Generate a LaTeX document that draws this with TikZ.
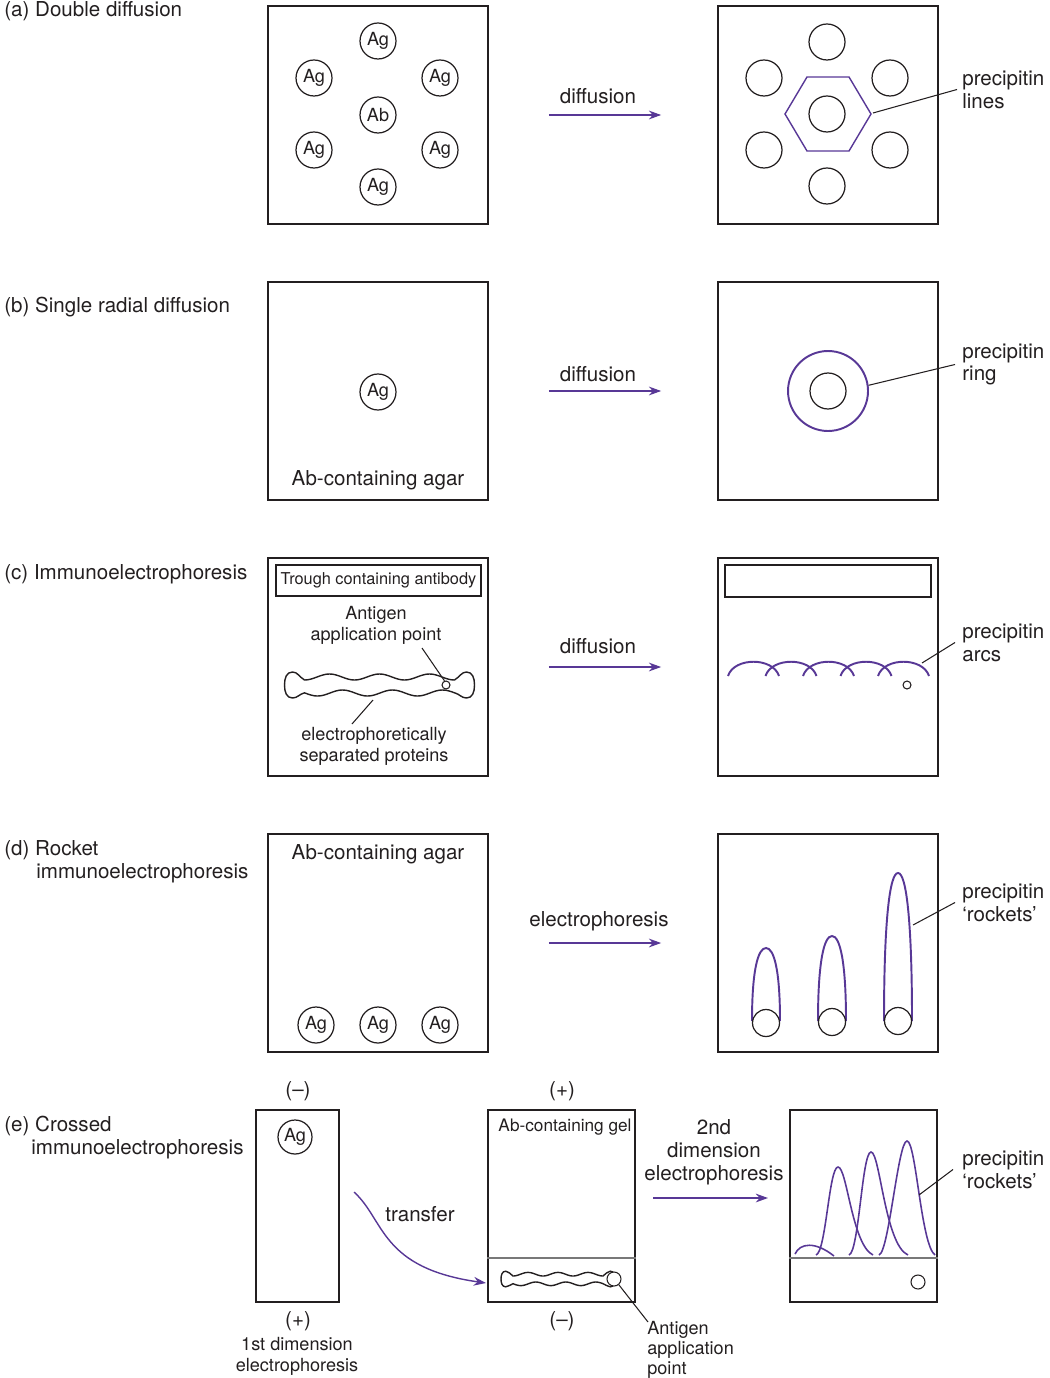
\documentclass[tikz,border=0pt]{standalone}
\usepackage{fontspec}
\setmainfont{TeX Gyre Heros}
\usetikzlibrary{arrows.meta,positioning}
\definecolor{ink}{RGB}{35,31,32}
\definecolor{purp}{RGB}{88,56,150}
\definecolor{divline}{RGB}{120,120,120}

\tikzset{
  plate/.style={draw=ink, line width=1pt, minimum width=4.4cm, minimum height=4.36cm, inner sep=0},
  strip/.style={draw=ink, line width=1pt, minimum height=3.84cm, inner sep=0},
  well/.style={circle, draw=ink, line width=0.7pt, minimum size=0.72cm, inner sep=0, text=ink, font=\fontsize{10.3}{12}\selectfont},
  prec/.style={draw=purp, line width=1.1pt},
  flow/.style={purp, line width=0.8pt, -{Stealth[length=7pt,width=5pt]}},
  leader/.style={draw=ink, line width=0.6pt},
  lbl/.style={text=ink, font=\fontsize{11.7}{13}\selectfont, inner sep=0, yshift=-0.03cm},
  note/.style={text=ink, font=\fontsize{10.3}{11.9}\selectfont, inner sep=0, align=center, yshift=-0.02cm},
  side/.style={lbl, align=left, anchor=west, inner xsep=0.1cm},
  band/.pic={
    \draw[ink, line width=0.8pt] plot[domain=-75:75, samples=61] (\x,{-8-3*cos(7.2*\x)})
      .. controls (80,-8) and (82,-13) .. (87,-13) .. controls (93,-13) and (95,-7) .. (95,0)
      .. controls (95,7) and (93,13) .. (87,13) .. controls (82,13) and (80,9) .. (75,7.8)
      -- plot[domain=75:-75, samples=61] (\x,{8+3*cos(7.2*(\x+12))})
      .. controls (-80,9) and (-82,13) .. (-87,13) .. controls (-93,13) and (-95,7) .. (-95,0)
      .. controls (-95,-7) and (-93,-13) .. (-87,-13) .. controls (-82,-13) and (-80,-8) .. cycle;
  },
}

\begin{document}
\begin{tikzpicture}[x=0.02cm, y=-0.02cm]
\useasboundingbox (0,0) rectangle (1049,1378);

% (a) double diffusion
\node[lbl, anchor=west] (capA) at (4,10) {(a) Double diffusion};
\node[plate] (a1) at (378,115) {};
\node[plate] (a2) at (828,115) {};
\node[well] (a1n) at (378,41) {Ag};
\node[well] (a1nw) at (314,78) {Ag};
\node[well] (a1ne) at (440,78) {Ag};
\node[well] (a1c) at (378,115) {Ab};
\node[well] (a1sw) at (314,150) {Ag};
\node[well] (a1se) at (440,150) {Ag};
\node[well] (a1s) at (378,187) {Ag};
\node[well] (a2n) at (827,42) {};
\node[well] (a2nw) at (764,78) {};
\node[well] (a2ne) at (890,78) {};
\node[well] (a2c) at (827,114) {};
\node[well] (a2sw) at (764,150) {};
\node[well] (a2se) at (890,150) {};
\node[well] (a2s) at (827,186) {};
\draw[prec, line width=0.8pt] (785,114) -- (807,77) -- (849,77) -- (871,114) -- (849,151) -- (807,151) -- cycle;
\coordinate (hexR) at (873,113);
\node[lbl] (difA) at (598,95) {diffusion};
\draw[flow] ([xshift=1.2cm]a1.east) -- ([xshift=-1.12cm]a2.west);
\node[side] (pa) at (957,88) {precipitin\\lines};
\draw[leader] (hexR) -- (pa.west);

% (b) single radial diffusion
\node[lbl, anchor=west] (capB) at (4,306) {(b) Single radial diffusion};
\node[plate] (b1) at (378,391) {};
\node[plate] (b2) at (828,391) {};
\node[well] (b1w) at (378,392) {Ag};
\node[lbl] (agarB) at (378,479) {Ab-containing agar};
\node[well] (b2w) at (828,391) {};
\node[circle, prec, minimum size=1.6cm, inner sep=0] (ring) at (828,391) {};
\node[lbl] (difB) at (598,373) {diffusion};
\draw[flow] ([xshift=1.2cm]b1.east) -- ([xshift=-1.12cm]b2.west);
\node[side, inner xsep=0.14cm] (pb) at (955,363) {precipitin\\ring};
\draw[leader] (ring.8) -- (pb.west);

% (c) immunoelectrophoresis
\node[lbl, anchor=west] (capC) at (4,573) {(c) Immunoelectrophoresis};
\node[plate] (c1) at (378,667) {};
\node[plate] (c2) at (828,667) {};
\node[draw=ink, line width=0.7pt, minimum width=4.1cm, minimum height=0.62cm, inner sep=0, text=ink,
  font=\fontsize{9.3}{11}\selectfont] (trough1) at (378.5,580.5) {Trough containing antibody};
\node[draw=ink, line width=0.7pt, minimum width=4.12cm, minimum height=0.64cm, inner sep=0] (trough2) at (828,581) {};
\node[note] (agtxt) at (376,624) {Antigen\\application point};
\pic at (379.5,685) {band};
\node[circle, draw=ink, line width=0.6pt, minimum size=0.16cm, inner sep=0] (agpt) at (446,685) {};
\coordinate (agtip) at (422,648);
\draw[leader] (agpt.110) -- (agtip);
\node[note] (septxt) at (374,745) {electrophoretically\\separated proteins};
\coordinate (bandpt) at (373,700);
\coordinate (septip) at (352,724);
\draw[leader] (bandpt) -- (septip);
\foreach \ax in {728,765.5,803,840.5,878}
  \draw[prec] (\ax,676) .. controls ({\ax+6},657) and ({\ax+45},657) .. ({\ax+51},676);
\node[circle, draw=ink, line width=0.6pt, minimum size=0.16cm, inner sep=0] (agpt2) at (907,685) {};
\coordinate (arcR) at (922,663);
\node[lbl] (difC) at (598,645) {diffusion};
\draw[flow] ([xshift=1.2cm]c1.east) -- ([xshift=-1.12cm]c2.west);
\node[side, inner xsep=0.14cm] (pc) at (955,641) {precipitin\\arcs};
\draw[leader] (arcR) -- (pc.west);

% (d) rocket immunoelectrophoresis
\node[lbl, anchor=west, align=left] (capD) at (4,860) {(d) Rocket\\\hspace*{0.64cm}immunoelectrophoresis};
\node[plate] (d1) at (378,943) {};
\node[plate] (d2) at (828,943) {};
\node[lbl] (agarD) at (378,853) {Ab-containing agar};
\node[well] (d1a) at (316,1025) {Ag};
\node[well] (d1b) at (378,1025) {Ag};
\node[well] (d1c) at (440,1025) {Ag};
\foreach \rx/\rtop in {766/948, 832/936, 898/873}
  \draw[prec] ({\rx-14},1021) .. controls ({\rx-14},{\rtop+0.3*(1021-\rtop)}) and ({\rx-8},\rtop) .. (\rx,\rtop)
    .. controls ({\rx+8},\rtop) and ({\rx+14},{\rtop+0.3*(1021-\rtop)}) .. ({\rx+14},1021);
\node[well, minimum size=0.54cm] (d2a) at (766,1023) {};
\node[well, minimum size=0.54cm] (d2b) at (832,1022) {};
\node[well, minimum size=0.54cm] (d2c) at (898,1021) {};
\coordinate (rockR) at (913,925);
\node[lbl] (elD) at (599,920) {electrophoresis};
\draw[flow] ([xshift=1.2cm]d1.east) -- ([xshift=-1.12cm]d2.west);
\node[side, inner xsep=0.14cm] (pd) at (955,901) {precipitin\\`rockets'};
\draw[leader] (rockR) -- (pd.west);

% (e) crossed immunoelectrophoresis
\node[lbl, anchor=west, align=left] (capE) at (4,1136) {(e) Crossed\\\hspace*{0.54cm}immunoelectrophoresis};
\node[strip, minimum width=1.66cm] (e1) at (297.5,1206) {};
\node[strip, minimum width=2.94cm] (e2) at (561.5,1206) {};
\node[strip, minimum width=2.94cm] (e3) at (863.5,1206) {};
\node[well, minimum size=0.68cm] (e1w) at (295,1137) {Ag};
\node[lbl] (e1top) at (298,1090) {(--)};
\node[lbl] (e1bot) at (298,1320) {(+)};
\node[note] (e1txt) at (297,1355) {1st dimension\\electrophoresis};
\node[lbl] (e2top) at (562,1090) {(+)};
\node[lbl] (e2bot) at (562,1320) {(--)};
\node[text=ink, font=\fontsize{9.8}{11}\selectfont, inner sep=0, yshift=-0.02cm] (gel) at (565,1126) {Ab-containing gel};
\coordinate (xfrom) at (354,1192);
\coordinate (xto) at (486,1283);
\draw[flow] (xfrom) .. controls (385,1220) and (380,1268) .. (xto);
\node[lbl] (xfer) at (420,1213) {transfer};
\draw[divline, line width=0.7pt] (e2.west |- 0,1258) -- (e2.east |- 0,1258);
\draw[divline, line width=0.7pt] (e3.west |- 0,1258) -- (e3.east |- 0,1258);
\pic[scale=0.6] at (558,1279) {band};
\node[circle, draw=ink, fill=white, line width=0.6pt, minimum size=0.28cm, inner sep=0] (agpt3) at (614,1279) {};
\coordinate (agtip3) at (648,1322);
\draw[leader] (agpt3.-50) -- (agtip3);
\node[note, align=left, anchor=west, font=\fontsize{10.3}{11.4}\selectfont] (agtxt3) at (647,1349) {Antigen\\application\\point};
\coordinate (fl2s) at (653,1198);
\coordinate (fl2t) at (768,1198);
\draw[flow] (fl2s) -- (fl2t);
\node[lbl, align=center] (el2) at (714,1151) {2nd\\dimension\\electrophoresis};
\draw[prec, line width=0.9pt] (795,1254) .. controls (800,1243) and (815,1241) .. (834,1256);
\foreach \fa/\px/\py/\fb in {816/838/1167/873, 849/871/1152/908, 879/907/1141/935}
  \draw[prec, line width=0.9pt] (\fa,1255) .. controls ({\fa+10},1252) and ({\px-9},\py) .. (\px,\py)
    .. controls ({\px+9},\py) and ({\px+14},1245) .. (\fb,1255);
\node[circle, draw=ink, line width=0.6pt, minimum size=0.28cm, inner sep=0] (agpt4) at (918,1282) {};
\coordinate (peakR) at (919,1195);
\node[side, inner xsep=0.18cm] (pe) at (953,1168) {precipitin\\`rockets'};
\draw[leader] (peakR) -- (pe.west);
\end{tikzpicture}
\end{document}
